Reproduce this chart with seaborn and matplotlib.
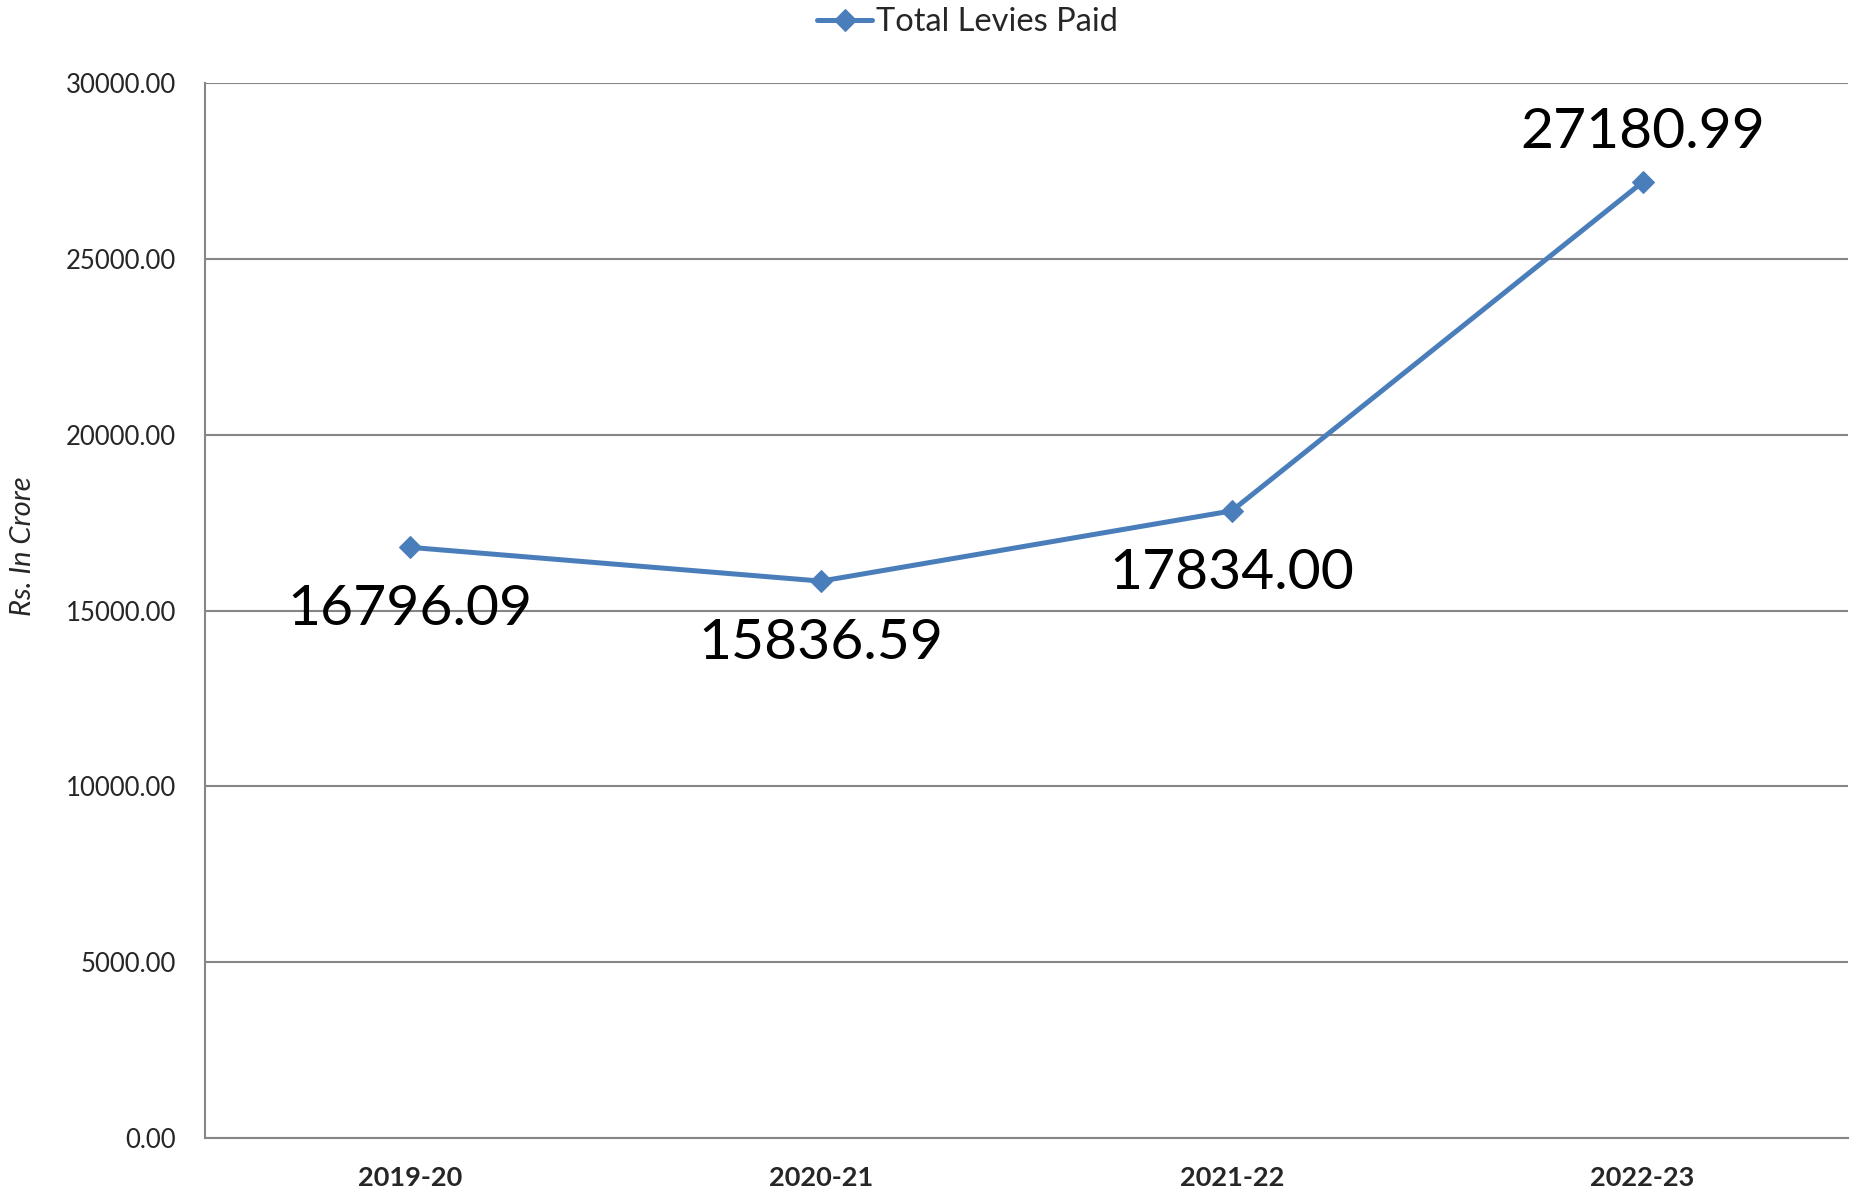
import matplotlib
matplotlib.use("Agg")
from matplotlib import pyplot as plt
import numpy as np
import pandas as pd
import seaborn as sns

# dati
anni = ["2019-20", "2020-21", "2021-22", "2022-23"]
levies = [16796.09, 15836.59, 17834.00, 27180.99]
etichette = ["16796.09", "15836.59", "17834.00", "27180.99"]
posizione_etichetta = ["below", "below", "below", "above"]
y_ticks = [0, 5000, 10000, 15000, 20000, 25000, 30000]

df = pd.DataFrame({"anno": anni, "levies": levies})

sns.set_theme(style="white")
plt.rcParams["font.family"] = ["Lato", "DejaVu Sans"]

blu = "#4A7EBB"
grigio = "#868686"

fig = plt.figure(figsize=(18.6, 11.95), dpi=100)
ax = fig.add_axes([0.1102, 0.0477, 0.8833, 0.8828])

sns.lineplot(data=df, x="anno", y="levies", ax=ax, color=blu, linewidth=3.6,
             marker="D", markersize=11, markeredgecolor=blu, label="Total Levies Paid",
             sort=False)

ax.set_xlim(-0.5, len(anni) - 0.5)
ax.set_ylim(0, 30000)
ax.set_yticks(y_ticks)
ax.set_yticklabels([f"{v:.2f}" for v in y_ticks], fontsize=18.5)
ax.yaxis.grid(True, color=grigio, linewidth=1.5)
ax.xaxis.grid(False)

ax.set_xticks(range(len(anni)))
ax.set_xticklabels(anni, fontsize=19.5, fontweight="bold")
ax.set_xticks(np.arange(-0.5, len(anni), 1.0), minor=True)
ax.tick_params(axis="x", which="major", length=0, pad=20)
ax.tick_params(axis="x", which="minor", length=10, width=1.3, color=grigio, direction="out")
ax.tick_params(axis="y", length=7, width=1.3, color=grigio, direction="out", pad=14)

for lato in ["top", "right"]:
    ax.spines[lato].set_visible(False)
for lato in ["left", "bottom"]:
    ax.spines[lato].set_color(grigio)
    ax.spines[lato].set_linewidth(1.5)

ax.set_xlabel("")
ax.set_ylabel("Rs. In Crore", fontsize=21, fontstyle="italic")
ax.yaxis.set_label_coords(-0.103, 0.561)

# etichette dei dati
for i, (v, testo, pos) in enumerate(zip(levies, etichette, posizione_etichetta)):
    dy = -45 if pos == "below" else 36
    ax.annotate(testo, (i, v), xytext=(0, dy), textcoords="offset points",
                ha="center", va="center", fontsize=41, color="black")

ax.legend_.remove()
h, l = ax.get_legend_handles_labels()
fig.legend(h, l, loc="upper center", bbox_to_anchor=(0.52, 1.005), frameon=False,
           fontsize=23.5, handlelength=1.7, handletextpad=0.1, borderaxespad=0)

fig.savefig("out.png", dpi=100, facecolor="white")
